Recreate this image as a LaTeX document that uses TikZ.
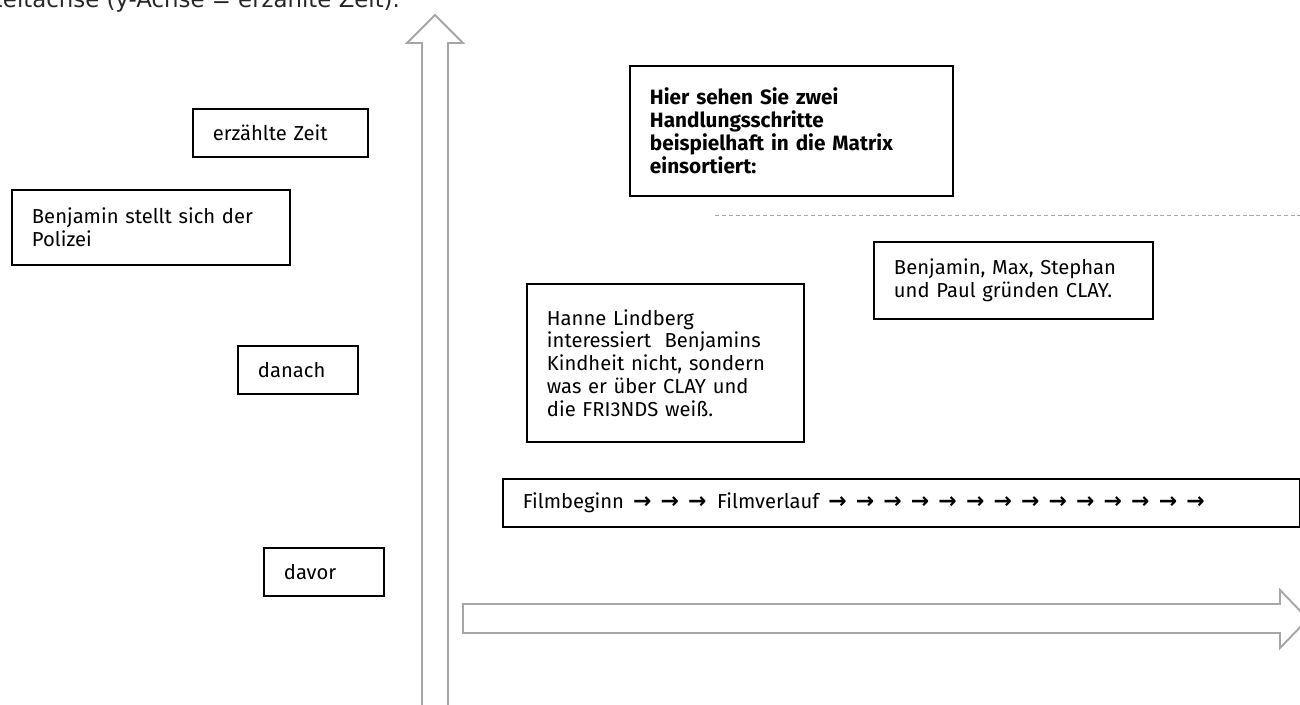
\documentclass[tikz,border=0pt]{standalone}
\usepackage{fontspec}
\setmainfont{Fira Sans}
\newfontfamily\dejavu{DejaVu Sans}
\usetikzlibrary{positioning}
\definecolor{achsgrau}{HTML}{A6A6A6}
\definecolor{kopfgrau}{HTML}{262626}
\newcommand{\pf}{\hspace{5.2pt}{\dejavu\bfseries\fontsize{12.5}{12.5}\selectfont\char"2192}}

\begin{document}
\begin{tikzpicture}[
  x=0.02cm, y=-0.02cm,
  kasten/.style={draw=black, line width=1.1pt, anchor=north west,
                 align=left, inner xsep=0.4cm, inner ysep=0pt,
                 font=\fontsize{11.5}{13}\selectfont},
  achse/.style={draw=achsgrau, line width=1.1pt, fill=white, line join=miter},
  trenn/.style={draw=achsgrau, line width=0.5pt, dash pattern=on 2.3pt off 1.6pt}
]
  \useasboundingbox (0,0) rectangle (1300,704);
  \clip (0,0) rectangle (1300,704);
  % Kopfzeile, oben abgeschnitten
  \node[anchor=base west, inner sep=0pt, text=kopfgrau,
        font=\dejavu\fontsize{13}{15}\selectfont] (titel) at (-13,7)
    {Zeitachse (y-Achse = erzählte Zeit).};
  % Achsen als Blockpfeile
  \draw[achse] (422,710) -- (422,43) -- (407,43) -- (435,15) -- (463,43)
    -- (448,43) -- (448,710);
  \draw[achse] (463,604) -- (1280,604) -- (1280,590) -- (1308,619)
    -- (1280,648) -- (1280,633) -- (463,633) -- cycle;
  \draw[trenn] (715,215) -- (1300,215);
  % linke Spalte
  \node[kasten, text width=2.7cm, minimum height=0.96cm] (zeit) at (192,108)
    {erzählte Zeit};
  \node[kasten, text width=4.76cm, minimum height=1.5cm] (polizei) at (11,189)
    {Benjamin stellt sich der\\Polizei};
  \node[kasten, text width=1.6cm, minimum height=0.96cm] (danach) at (237,345)
    {danach};
  \node[kasten, text width=1.6cm, minimum height=0.96cm] (davor) at (263,547)
    {davor};
  % Matrix
  \node[kasten, text width=5.66cm, minimum height=2.6cm,
        font=\fontsize{11.8}{13}\selectfont\bfseries] (hinweis) at (629,65)
    {Hier sehen Sie zwei\\Handlungsschritte\\beispielhaft in die Matrix\\einsortiert:};
  \node[kasten, text width=4.74cm, minimum height=3.16cm] (lindberg) at (526,283)
    {Hanne Lindberg\\interessiert~ Benjamins\\Kindheit nicht, sondern\\was er über CLAY und\\die FRI3NDS weiß.};
  \node[kasten, text width=4.78cm, minimum height=1.54cm] (clay) at (873,241)
    {Benjamin, Max, Stephan\\und Paul gründen CLAY.};
  \node[kasten, text width=15.14cm, minimum height=0.96cm] (film) at (502,478)
    {Filmbeginn\pf\pf\pf\hspace{6pt}Filmverlauf\foreach \i in {1,...,14}{\pf}};
\end{tikzpicture}
\end{document}
